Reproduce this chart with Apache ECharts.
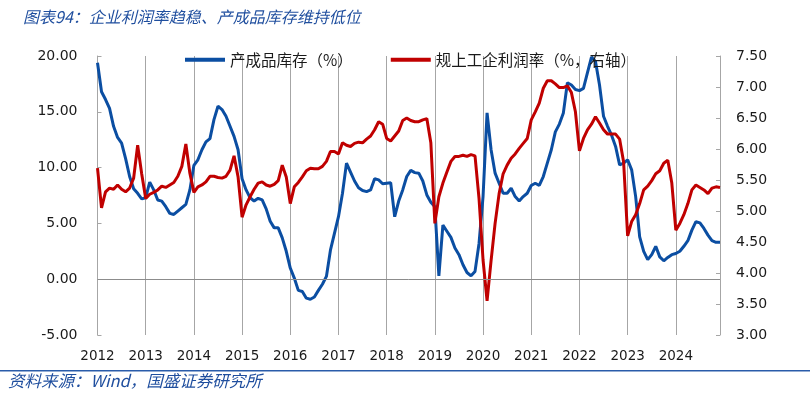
<!DOCTYPE html>
<html>
<head>
<meta charset="utf-8">
<script src="https://cdn.jsdelivr.net/npm/echarts@6/dist/echarts.min.js"></script>
<style>
html,body{margin:0;padding:0;background:#fff;}
#c{width:810px;height:395px;}
</style>
</head>
<body>
<div id="c"></div>
<script>
// Years on the x axis (monthly data, Jan 2012 – Dec 2024)
const years = ["2012","2013","2014","2015","2016","2017","2018","2019","2020","2021","2022","2023","2024"];
const monthsInYear = ["01","02","03","04","05","06","07","08","09","10","11","12"];

// 产成品库存（%） — left axis, one value per month
const inventory = [
  19.4,16.8,16.1,15.3,13.7,12.7,12.2,10.8,9.2,8.1,7.7,7.2,      // 2012
  7.3,8.7,8.0,7.1,7.0,6.5,5.9,5.8,6.1,6.4,6.7,8.0,              // 2013
  10.2,10.7,11.6,12.3,12.6,14.3,15.5,15.2,14.6,13.7,12.8,11.6,  // 2014
  9.0,8.0,7.3,7.0,7.25,7.1,6.3,5.2,4.6,4.6,3.7,2.5,             // 2015
  1.0,0.1,-1.0,-1.1,-1.7,-1.8,-1.6,-1.0,-0.45,0.25,2.6,4.1,     // 2016
  5.6,7.7,10.4,9.6,8.8,8.2,7.95,7.85,8.0,9.0,8.9,8.55,          // 2017
  8.6,8.65,5.6,7.0,8.0,9.2,9.75,9.55,9.5,8.8,7.55,6.9,          // 2018
  6.5,0.3,4.85,4.3,3.75,2.8,2.2,1.3,0.6,0.3,0.7,3.2,            // 2019
  7.4,14.9,11.6,9.5,8.6,7.7,7.7,8.15,7.4,7.0,7.4,7.7,           // 2020
  8.4,8.6,8.4,9.2,10.4,11.6,13.2,13.9,14.9,17.6,17.4,17.0,      // 2021
  16.9,17.1,18.5,19.9,19.5,17.4,14.6,13.7,12.9,11.9,10.25,10.4, // 2022
  10.7,9.8,7.4,3.8,2.5,1.75,2.2,2.95,2.0,1.65,1.95,2.2,         // 2023
  2.3,2.5,2.95,3.45,4.4,5.15,5.05,4.55,3.95,3.45,3.3,3.3        // 2024
];

// 规上工企利润率（%，右轴） — right axis, one value per month
const profitMargin = [
  5.69,5.05,5.31,5.37,5.35,5.42,5.35,5.31,5.37,5.53,6.06,5.60,  // 2012
  5.20,5.27,5.30,5.34,5.40,5.38,5.42,5.46,5.56,5.72,6.08,5.61,  // 2013
  5.30,5.39,5.42,5.47,5.56,5.56,5.54,5.53,5.56,5.66,5.89,5.55,  // 2014
  4.90,5.10,5.23,5.35,5.45,5.47,5.42,5.40,5.43,5.49,5.74,5.55,  // 2015
  5.12,5.39,5.46,5.55,5.65,5.69,5.68,5.68,5.72,5.80,5.96,5.96,  // 2016
  5.92,6.10,6.06,6.04,6.09,6.11,6.10,6.16,6.21,6.31,6.44,6.40,  // 2017
  6.17,6.13,6.21,6.29,6.46,6.50,6.46,6.44,6.44,6.47,6.49,6.10,  // 2018
  4.80,5.23,5.45,5.63,5.80,5.88,5.88,5.90,5.88,5.91,5.89,5.20,  // 2019
  4.21,3.55,4.20,4.80,5.28,5.60,5.74,5.85,5.92,6.01,6.09,6.17,  // 2020
  6.47,6.60,6.74,6.98,7.10,7.10,7.05,6.99,6.99,7.02,6.91,6.60,  // 2021
  5.97,6.17,6.31,6.40,6.52,6.42,6.31,6.24,6.24,6.24,6.16,5.79,  // 2022
  4.60,4.83,4.94,5.12,5.34,5.40,5.49,5.60,5.65,5.77,5.82,5.45,  // 2023
  4.69,4.80,4.94,5.12,5.34,5.42,5.38,5.34,5.28,5.37,5.39,5.38   // 2024
];

const leftTicks = { min: -5, max: 20, interval: 5 };
const rightTicks = { min: 3, max: 7.5, interval: 0.5 };

const categories = [];
years.forEach(y => monthsInYear.forEach(m => categories.push(y + "-" + m)));

const BLUE = "#0B4EA2";
const RED = "#C00000";
const GRID = "#A6A6A6";
const TXT = "#1a1a1a";
const FONT = "DejaVu Sans";
const CJK = "'Noto Sans CJK SC', sans-serif";

const chart = echarts.init(document.getElementById("c"), null, { renderer: "canvas" });
chart.setOption({
  animation: false,
  backgroundColor: "#fff",
  title: {
    text: "图表94：企业利润率趋稳、产成品库存维持低位",
    left: 18, top: 4,
    textStyle: { color: "#1F4E9E", fontSize: 16, fontStyle: "italic", fontWeight: "normal", fontFamily: CJK }
  },
  graphic: [
    { type: "rect", left: 0, top: 370, shape: { width: 810, height: 1.5 }, style: { fill: "#2A5CAA" }, silent: true },
    { type: "text", left: 8, top: 372,
      style: { text: "资料来源：Wind，国盛证券研究所", fill: "#1F4E9E", font: "italic 16.5px " + CJK }, silent: true }
  ],
  legend: {
    left: 180, top: 47,
    itemWidth: 40, itemHeight: 4, itemGap: 38,
    icon: "rect",
    textStyle: { color: TXT, fontSize: 15.5, fontFamily: CJK, padding: [0, 0, 0, 0] },
    data: ["产成品库存（%）", "规上工企利润率（%，右轴）"]
  },
  grid: { left: 97.5, right: 90, top: 56, bottom: 60, containLabel: false },
  xAxis: {
    type: "category",
    data: categories,
    boundaryGap: false,
    axisLine: { show: false, onZero: false },
    axisTick: { show: false },
    axisLabel: {
      interval: (i) => i % 12 === 0,
      formatter: (v) => v.slice(0, 4),
      color: TXT, fontSize: 13.5, fontFamily: FONT, margin: 14
    },
    splitLine: { show: true, interval: (i) => i % 12 === 0, lineStyle: { color: GRID, width: 1 } }
  },
  yAxis: [
    {
      type: "value", position: "left",
      min: leftTicks.min, max: leftTicks.max, interval: leftTicks.interval,
      axisLine: { show: true, lineStyle: { color: GRID } },
      axisTick: { show: true, inside: true, length: 4, lineStyle: { color: GRID } },
      axisLabel: { formatter: (v) => v.toFixed(2), color: TXT, fontSize: 14, fontFamily: FONT, margin: 20 },
      splitLine: { show: false }
    },
    {
      type: "value", position: "right",
      min: rightTicks.min, max: rightTicks.max, interval: rightTicks.interval,
      axisLine: { show: true, lineStyle: { color: GRID } },
      axisTick: { show: true, inside: true, length: 4, lineStyle: { color: GRID } },
      axisLabel: { formatter: (v) => v.toFixed(2), color: TXT, fontSize: 14, fontFamily: FONT, margin: 16 },
      splitLine: { show: false }
    }
  ],
  series: [
    {
      name: "产成品库存（%）", type: "line", yAxisIndex: 0,
      data: inventory, showSymbol: false, symbol: "none",
      lineStyle: { color: BLUE, width: 3 }, itemStyle: { color: BLUE },
      markLine: {
        silent: true, symbol: "none", animation: false,
        label: { show: false },
        lineStyle: { color: "#8c8c8c", width: 1, type: "solid" },
        data: [{ yAxis: 0 }]
      }
    },
    {
      name: "规上工企利润率（%，右轴）", type: "line", yAxisIndex: 1,
      data: profitMargin, showSymbol: false, symbol: "none",
      lineStyle: { color: RED, width: 3 }, itemStyle: { color: RED }
    }
  ]
});
</script>
</body>
</html>
